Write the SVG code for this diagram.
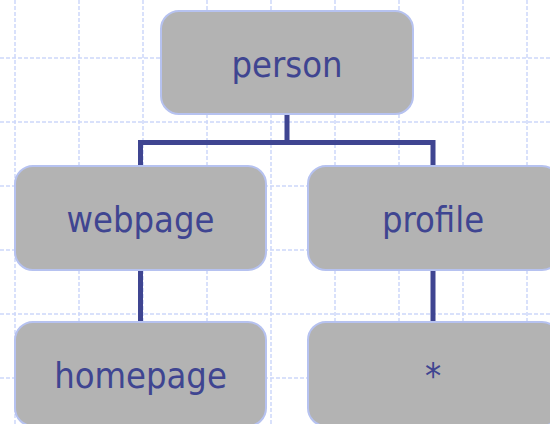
<svg xmlns="http://www.w3.org/2000/svg" width="550" height="424" viewBox="0 0 550 424">
<style>
.grid line{stroke:#cdd8fa;stroke-width:1.5;stroke-dasharray:4 2}
.node rect{fill:#b3b3b3;stroke:#b6c2f0;stroke-width:2}
.node text{font-family:"DejaVu Sans Condensed","DejaVu Sans",sans-serif;font-size:36px;fill:#3f4591;text-anchor:middle}
.conn path{fill:none;stroke:#3f4591;stroke-width:5}
</style>
<rect width="550" height="424" fill="#ffffff"/>
<g class="grid">
<line x1="15" y1="0" x2="15" y2="424"/>
<line x1="79" y1="0" x2="79" y2="424"/>
<line x1="143" y1="0" x2="143" y2="424"/>
<line x1="207" y1="0" x2="207" y2="424"/>
<line x1="271" y1="0" x2="271" y2="424"/>
<line x1="335" y1="0" x2="335" y2="424"/>
<line x1="399" y1="0" x2="399" y2="424"/>
<line x1="463" y1="0" x2="463" y2="424"/>
<line x1="527" y1="0" x2="527" y2="424"/>
<line x1="0" y1="58" x2="550" y2="58"/>
<line x1="0" y1="122" x2="550" y2="122"/>
<line x1="0" y1="186" x2="550" y2="186"/>
<line x1="0" y1="250" x2="550" y2="250"/>
<line x1="0" y1="314" x2="550" y2="314"/>
<line x1="0" y1="378" x2="550" y2="378"/>
</g>
<g class="conn">
<path d="M287 114 V142.5 M140.5 166 V142.5 H433 V166"/>
<path d="M140.5 270 V322"/>
<path d="M433 270 V322"/>
</g>
<g id="person" class="node">
<rect x="161" y="11" width="252" height="103" rx="18"/>
<text x="287" y="77">person</text>
</g>
<g id="webpage" class="node">
<rect x="15" y="166" width="251" height="104" rx="18"/>
<text x="140.5" y="232">webpage</text>
</g>
<g id="profile" class="node">
<rect x="308" y="166" width="252" height="104" rx="18"/>
<text x="433" y="232">profile</text>
</g>
<g id="homepage" class="node">
<rect x="15" y="322" width="251" height="104" rx="18"/>
<text x="140.5" y="388">homepage</text>
</g>
<g id="star" class="node">
<rect x="308" y="322" width="252" height="104" rx="18"/>
<text x="433" y="388">*</text>
</g>
</svg>
